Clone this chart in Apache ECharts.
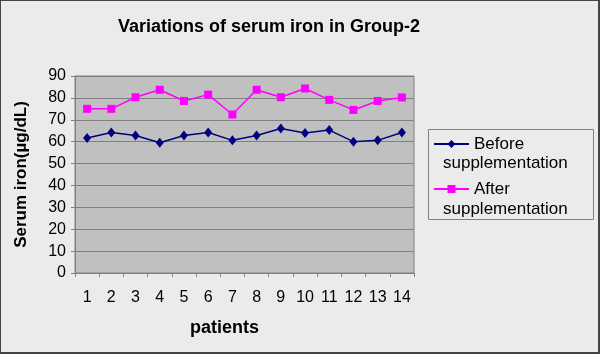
<!DOCTYPE html>
<html>
<head>
<meta charset="utf-8">
<script src="https://cdn.jsdelivr.net/npm/echarts@6/dist/echarts.min.js"></script>
<style>
  html, body { margin: 0; padding: 0; background: #fff; }
  #wrap { position: relative; width: 600px; height: 354px; }
  #chart { width: 600px; height: 354px; background: #ebebeb; }
  #frame { position: absolute; left: 0; top: 0; width: 600px; height: 354px; box-sizing: border-box; border: 1px solid #444; border-right-width: 2px; border-bottom-width: 2px; pointer-events: none; }
</style>
</head>
<body>
<div id="wrap">
  <div id="chart"></div>
  <div id="frame"></div>
</div>
<script>
const patients = ['1', '2', '3', '4', '5', '6', '7', '8', '9', '10', '11', '12', '13', '14']
const before = [61.7, 64.2, 62.8, 59.5, 62.8, 64.2, 60.6, 62.8, 66.0, 64.0, 65.3, 60.0, 60.6, 64.2]
const after = [75.0, 75.0, 80.3, 83.7, 78.6, 81.5, 72.4, 83.7, 80.3, 84.3, 79.1, 74.5, 78.6, 80.2]
const seriesNames = ['Before supplementation', 'After supplementation']

const font = 'Liberation Sans, Arial, sans-serif'
const myChart = echarts.init(document.getElementById('chart'))

myChart.setOption({
  animation: false,
  textStyle: { fontFamily: font },
  title: {
    text: 'Variations of serum iron in Group-2',
    left: 264,
    top: 13,
    textAlign: 'center',
    textStyle: { fontSize: 18, fontWeight: 'bold', color: '#000', fontFamily: font },
  },
  grid: { left: 75, top: 76, right: 186, bottom: 81, show: true, backgroundColor: '#c0c0c0', borderColor: '#808080', borderWidth: 1 },
  legend: {
    orient: 'vertical',
    left: 433,
    top: 134,
    padding: 0,
    itemGap: 25,
    itemWidth: 35,
    itemHeight: 10,
    // second word goes on its own line, drawn below
    formatter: (name) => name.split(' ')[0],
    textStyle: { fontSize: 17, color: '#000', lineHeight: 20, fontFamily: font },
    data: seriesNames,
  },
  graphic: [
    { type: 'rect', shape: { x: 428.5, y: 129.5, width: 165, height: 90 }, style: { fill: 'none', stroke: '#808080', lineWidth: 1 } },
    { type: 'text', x: 443, y: 155, style: { text: seriesNames[0].split(' ')[1], font: '17px ' + font, fill: '#000' } },
    { type: 'text', x: 443, y: 201, style: { text: seriesNames[1].split(' ')[1], font: '17px ' + font, fill: '#000' } },
  ],
  xAxis: {
    type: 'category',
    data: patients,
    boundaryGap: true,
    name: 'patients',
    nameLocation: 'middle',
    nameGap: 46,
    nameTextStyle: { fontSize: 18, fontWeight: 'bold', color: '#000', padding: [0, 40, 0, 0] },
    axisLine: { lineStyle: { color: '#808080' } },
    axisTick: { show: true, interval: 0, inside: false, length: 4, lineStyle: { color: '#808080' } },
    axisLabel: { fontSize: 16, color: '#000', margin: 17, interval: 0 },
    splitLine: { show: false },
  },
  yAxis: {
    type: 'value',
    min: 0,
    max: 90,
    interval: 10,
    name: 'Serum iron(µg/dL)',
    nameLocation: 'middle',
    nameGap: 45,
    nameTextStyle: { fontSize: 17, fontWeight: 'bold', color: '#000' },
    axisLine: { show: true, lineStyle: { color: '#808080' } },
    axisTick: { show: true, length: 4, lineStyle: { color: '#808080' } },
    axisLabel: { fontSize: 16, color: '#000', margin: 9 },
    splitLine: { show: true, lineStyle: { color: '#808080', width: 1 } },
  },
  series: [
    {
      name: seriesNames[0],
      type: 'line',
      data: before,
      symbol: 'diamond',
      symbolSize: [8, 10],
      lineStyle: { width: 1.5, color: '#000080' },
      itemStyle: { color: '#000080' },
    },
    {
      name: seriesNames[1],
      type: 'line',
      data: after,
      symbol: 'rect',
      symbolSize: 8,
      lineStyle: { width: 1.5, color: '#ff00ff' },
      itemStyle: { color: '#ff00ff' },
    },
  ],
})
</script>
</body>
</html>
